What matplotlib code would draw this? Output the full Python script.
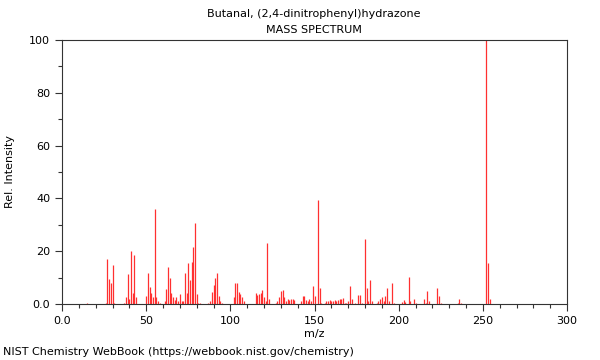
import numpy as np
import matplotlib
matplotlib.use("Agg")
import matplotlib.pyplot as plt
from matplotlib.ticker import MultipleLocator, FixedFormatter, FixedLocator

title = "Butanal, (2,4-dinitrophenyl)hydrazone"
subtitle = "MASS SPECTRUM"
footer = "NIST Chemistry WebBook (https://webbook.nist.gov/chemistry)"

# m/z and relative intensity
mz = [15, 26, 27, 28, 29, 30, 31, 37, 38, 39, 40, 41, 42, 43, 44,
      50, 51, 52, 53, 54, 55, 56, 57, 58, 61, 62, 63, 64, 65, 66, 67, 68, 69, 70, 71, 72,
      73, 74, 75, 76, 77, 78, 79, 80, 81, 82, 87, 88, 89, 90, 91, 92, 93, 94, 95,
      102, 103, 104, 105, 106, 107, 108, 115, 116, 117, 118, 119, 120, 121, 122, 123,
      127, 128, 129, 130, 131, 132, 133, 134, 135, 136, 137, 138,
      142, 143, 144, 145, 146, 147, 148, 149, 150, 152, 153, 154,
      156, 157, 158, 159, 160, 161, 162, 163, 164, 165, 166, 167, 168, 169, 170, 171, 172,
      174, 176, 177, 178, 180, 181, 182, 183, 184, 187, 188, 189, 190, 191, 192, 193, 194,
      196, 197, 202, 203, 204, 206, 207, 209, 210, 215, 216, 217, 218, 223, 224, 225,
      235, 236, 237, 252, 253, 254]
intensity = [0.3, 0.5, 17, 9.5, 7.8, 14.6, 0.5, 0.5, 2.5, 11.3, 1.9, 20, 4, 18.5, 2.5,
             3, 11.7, 6.5, 4.3, 2.5, 36, 2.5, 1, 0.3, 1, 5.7, 14, 9.7, 4, 2.5, 1.5, 2.5, 1, 3.7, 1, 1,
             11.6, 4, 15.4, 9.1, 15.9, 21.5, 30.6, 3.9, 0.3, 0.3, 0.3, 1, 4.5, 7.2, 10, 11.7, 3, 1, 0.4,
             2.5, 7.8, 7.8, 4.5, 3.9, 2.5, 1, 4.3, 3.5, 3.8, 4, 5.3, 2.5, 1, 23, 2,
             0.3, 1, 2.5, 5, 5.3, 2.5, 1, 2, 1.5, 2, 2, 1.5,
             1, 3, 3, 1.5, 1, 2, 1, 6.9, 3, 39.4, 6, 0.5,
             0.3, 1, 1, 1.5, 1.2, 1, 1.5, 1.3, 1.5, 1.8, 2, 2.2, 0.3, 0.5, 1, 6.9, 1.8,
             0.3, 3.5, 3.5, 0.3, 24.5, 6, 1, 9.1, 1, 0.3, 1, 2, 2.5, 1, 3, 6.2, 1,
             8, 0.3, 0.8, 1.5, 0.8, 10.2, 1.3, 2, 0.3, 1.8, 0.5, 5, 1.3, 6, 3, 0.3,
             0.3, 2, 0.5, 100, 15.6, 2]

x_ticks = [0, 50, 100, 150, 200, 250, 300]
x_labels = ["0.0", "50", "100", "150", "200", "250", "300"]
y_ticks = [0, 20, 40, 60, 80, 100]
y_labels = ["0.0", "20", "40", "60", "80", "100"]

fig = plt.figure(figsize=(6, 3.6), dpi=100)
ax = fig.add_axes([62 / 600, 1 - 304 / 360, 505 / 600, 264 / 360])

ax.vlines(mz, 0, intensity, color="#ff3030", linewidth=0.9)

ax.set_xlim(0, 300)
ax.set_ylim(0, 100)
ax.xaxis.set_major_locator(FixedLocator(x_ticks))
ax.xaxis.set_major_formatter(FixedFormatter(x_labels))
ax.yaxis.set_major_locator(FixedLocator(y_ticks))
ax.yaxis.set_major_formatter(FixedFormatter(y_labels))
ax.xaxis.set_minor_locator(MultipleLocator(10))
ax.yaxis.set_minor_locator(MultipleLocator(10))
ax.tick_params(which="major", length=5, width=0.8, labelsize=8, colors="#333333", labelcolor="black")
ax.tick_params(which="minor", length=3, width=0.8, colors="#333333")
for s in ax.spines.values():
    s.set_color("#333333")
    s.set_linewidth(0.8)

ax.set_xlabel("m/z", fontsize=8, labelpad=2)
ax.set_ylabel("Rel. Intensity", fontsize=8, labelpad=10)

fig.text(314 / 600, 1 - 14 / 360, title, ha="center", va="center", fontsize=8)
fig.text(314 / 600, 1 - 30 / 360, subtitle, ha="center", va="center", fontsize=8)
fig.text(3 / 600, 1 - 352 / 360, footer, ha="left", va="center", fontsize=8)

fig.savefig("out.png", dpi=100)
